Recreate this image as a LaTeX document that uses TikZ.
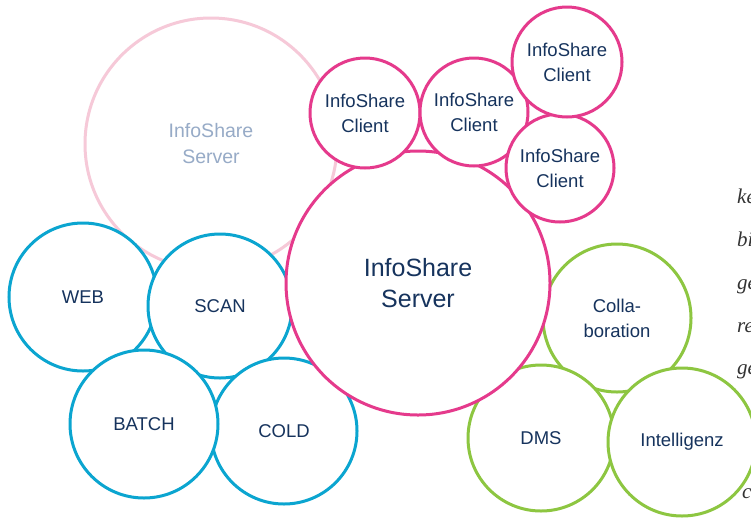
\documentclass[tikz,border=0pt]{standalone}
\usepackage{fontspec}
\setmainfont{Liberation Sans}
\newfontfamily\serifit{Liberation Serif}
\definecolor{pinkc}{HTML}{E53A8C}
\definecolor{palepink}{HTML}{F6C9D8}
\definecolor{bluec}{HTML}{0BA5D0}
\definecolor{greenc}{HTML}{8DC641}
\definecolor{navy}{HTML}{16335D}
\definecolor{paletext}{HTML}{97ABC7}
\definecolor{sidetext}{HTML}{333333}
\tikzset{
  bub/.style={circle, draw, fill=white, line width=3pt, inner sep=0pt, align=center,
    text=navy, font=\fontsize{18.5}{25}\selectfont},
  pinkbub/.style={bub, draw=pinkc},
  bluebub/.style={bub, draw=bluec},
  greenbub/.style={bub, draw=greenc},
  side/.style={anchor=base west, inner sep=0pt, text=sidetext, font=\serifit\itshape\fontsize{21}{24}\selectfont}
}
\begin{document}
\begin{tikzpicture}[x=1pt,y=-1pt]
\clip (0,0) rectangle (751,517);
\fill[white] (0,0) rectangle (751,517);
% pale background server
\node[bub, draw=palepink, text=paletext, minimum size=252pt, font=\fontsize{19.5}{26}\selectfont] (oldserver) at (211,144) {InfoShare\\Server};
% blue group
\node[bluebub, minimum size=148pt] (web) at (83,297) {WEB};
\node[bluebub, minimum size=144pt] (scan) at (220,306) {SCAN};
\node[bluebub, minimum size=146pt] (cold) at (284,431) {COLD};
\node[bluebub, minimum size=148pt] (batch) at (144,424) {BATCH};
% green group
\node[greenbub, minimum size=148pt] (collab) at (617,318) {Colla-\\boration};
\node[greenbub, minimum size=146pt] (dms) at (541,438) {DMS};
\node[greenbub, minimum size=148pt] (intel) at (682,442) {Intelligenz};
% main server
\node[pinkbub, minimum size=264pt, font=\fontsize{25}{31}\selectfont] (server) at (418,283) {InfoShare\\Server};
% clients
\node[pinkbub, minimum size=110pt] (c1) at (365,113) {InfoShare\\Client};
\node[pinkbub, minimum size=108pt] (c2) at (474,112) {InfoShare\\Client};
\node[pinkbub, minimum size=108pt] (c4) at (560,168) {InfoShare\\Client};
\node[pinkbub, minimum size=110pt] (c3) at (567,62) {InfoShare\\Client};
% cut-off side text
\node[side] (s1) at (737,203) {ke};
\node[side] (s2) at (737,246) {bi};
\node[side] (s3) at (737,289) {ge};
\node[side] (s4) at (737,332) {re};
\node[side] (s5) at (737,374) {ge};
\node[side] (s6) at (742,498) {c};
\end{tikzpicture}
\end{document}
